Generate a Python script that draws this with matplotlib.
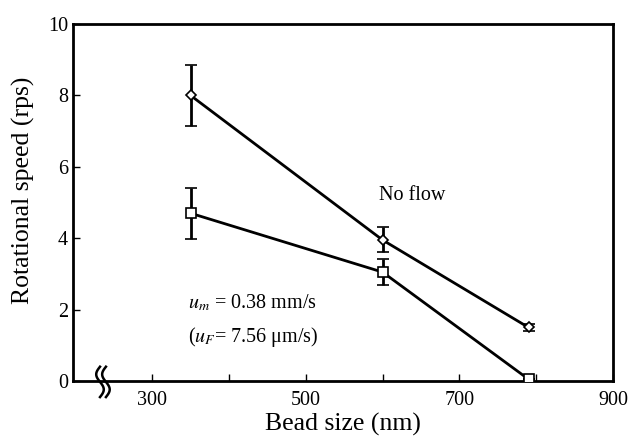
import numpy as np
import matplotlib
matplotlib.use("Agg")
import matplotlib.pyplot as plt

plt.rcParams['font.family'] = ['Liberation Serif', 'DejaVu Serif']

# bead sizes (nm) and rotational speeds (rps)
bead_size = [350, 600, 790]
speed_noflow = [8.0, 3.95, 1.5]
err_noflow = [0.85, 0.35, 0.1]
speed_flow = [4.7, 3.05, 0.05]
err_flow = [0.72, 0.37, 0.0]

x_ticks = [300, 500, 700, 900]
y_ticks = [0, 2, 4, 6, 8, 10]

fig = plt.figure(figsize=(6.31, 4.43), dpi=100)
ax = fig.add_axes([73 / 631, 1 - 381 / 443, 540 / 631, 357 / 443])

ax.errorbar(bead_size, speed_noflow, yerr=err_noflow, color='black', lw=2,
            marker='D', ms=5, mfc='white', mec='black', mew=1.2,
            capsize=4, capthick=2, elinewidth=2, zorder=3)
ax.errorbar(bead_size, speed_flow, yerr=err_flow, color='black', lw=2,
            marker='s', ms=7, mfc='white', mec='black', mew=1.2,
            capsize=4, capthick=2, elinewidth=2, zorder=3)

ax.set_xlim(197, 900)
ax.set_ylim(0, 10)
ax.set_xticks(x_ticks)
ax.set_xticks([400, 600, 800], minor=True)
ax.set_yticks(y_ticks)
ax.tick_params(axis='both', which='both', direction='in', labelsize=14.5, width=1)
ax.tick_params(axis='both', which='major', length=5)
ax.tick_params(axis='x', which='minor', length=5)
ax.tick_params(axis='x', pad=7)
for s in ax.spines.values():
    s.set_linewidth(2)

ax.set_xlabel('Bead size (nm)', fontsize=18.5, labelpad=2)
ax.set_ylabel('Rotational speed (rps)', fontsize=18.5)
ax.yaxis.set_label_coords(-0.07, 0.535)

ax.text(595, 5.2, 'No flow', fontsize=14.5, va='center')
ax.text(347, 2.2, r'$u_m$ = 0.38 mm/s', fontsize=14.5, va='center',
        math_fontfamily='stix')
ax.text(347, 1.23, r'($u_F$= 7.56 μm/s)', fontsize=14.5, va='center',
        math_fontfamily='stix')

# axis break mark (two S-shaped strokes)
t = np.linspace(0, 1, 40)
for dx in (0.0, 0.011):
    xc = 0.05 + dx - 0.007 * np.sin(2 * np.pi * t)
    yc = 0.04 - 0.085 * t
    ax.plot(xc, yc, transform=ax.transAxes, color='black', lw=1.8,
            clip_on=False, zorder=4)

fig.savefig('out.png', dpi=100)
